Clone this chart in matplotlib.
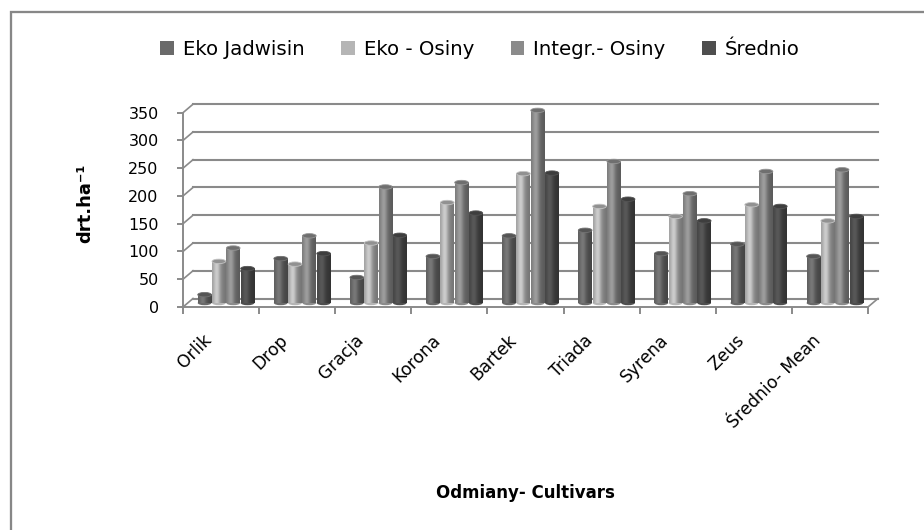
import numpy as np
import matplotlib
matplotlib.use('Agg')
import matplotlib.pyplot as plt
import matplotlib.transforms as mtransforms
from matplotlib.patches import Patch, Ellipse, Rectangle
from matplotlib.lines import Line2D

## data: dry matter yield per cultivar and site
cultivars    = ['Orlik', 'Drop', 'Gracja', 'Korona', 'Bartek', 'Triada', 'Syrena', 'Zeus', 'Średnio- Mean']
eko_jadwisin = [15, 80, 46, 84, 121, 131, 89, 106, 84]
eko_osiny    = [75, 70, 108, 181, 233, 174, 156, 177, 148]
integr_osiny = [99, 121, 209, 217, 347, 255, 197, 237, 240]
srednio      = [62, 89, 122, 162, 234, 187, 148, 174, 156]

series_names  = ['Eko Jadwisin', 'Eko - Osiny', 'Integr.- Osiny', 'Średnio']
series_colors = ['#6a6a6a', '#b5b5b5', '#8b8b8b', '#4e4e4e']
yticks        = [0, 50, 100, 150, 200, 250, 300, 350]

W, H = 924, 530
GRID = '#8a8a8a'

fig = plt.figure(figsize=(W/100, H/100), dpi=100)
ax = fig.add_axes([183/W, 1-307/H, 685/W, 194.3/H])
ncat = len(cultivars)

## back wall sits a bit up and right of the front axes (fake 3d)
wall = mtransforms.offset_copy(ax.transData, fig=fig, x=10, y=8.5, units='dots')
bar_tr = mtransforms.offset_copy(ax.transData, fig=fig, x=5, y=4, units='dots')

ax.set_xlim(0, ncat)
ax.set_ylim(0, 350)

for v in yticks:
    ax.plot([0, ncat], [v, v], color=GRID, lw=1.5, transform=wall, clip_on=False, zorder=1)

def shade(color, n=40):
    # cylinder-like horizontal brightness profile
    rgb = np.array(matplotlib.colors.to_rgb(color))
    t = np.linspace(0, 1, n)
    f = 0.85 + 0.35*np.exp(-((t-0.35)/0.25)**2) - 0.2*t
    return np.clip(rgb[None, :]*f[:, None], 0, 1)[None, :, :]

series = [eko_jadwisin, eko_osiny, integr_osiny, srednio]
bw, step = 0.18, 0.188
for j, (vals, col) in enumerate(zip(series, series_colors)):
    img = shade(col)
    cap = np.clip(np.array(matplotlib.colors.to_rgb(col))*0.8, 0, 1)
    for i, v in enumerate(vals):
        xc = i + 0.5 + (j-1.5)*step
        ax.imshow(img, extent=[xc-bw/2, xc+bw/2, 0, v], transform=bar_tr,
                  aspect='auto', interpolation='bilinear', zorder=3, clip_on=False)
        ax.add_patch(Ellipse((xc, 0), bw, 8, transform=bar_tr, facecolor=col,
                             edgecolor='none', zorder=2.9, clip_on=False))
        ax.add_patch(Ellipse((xc, v), bw, 8, transform=bar_tr, facecolor=cap,
                             edgecolor=np.clip(cap*1.35, 0, 1), lw=0.6, zorder=4, clip_on=False))

ax.set_xlim(0, ncat)
ax.set_ylim(0, 350)

## side wall / floor connectors, drawn in pixels
fig.canvas.draw()
def px(x, y):
    return ax.transData.transform((x, y))
for v in yticks:
    a = px(0, v)
    fig.add_artist(Line2D([a[0], a[0]+10], [a[1], a[1]+8.5], color=GRID, lw=1.2,
                          transform=mtransforms.IdentityTransform()))
a = px(ncat, 0)
fig.add_artist(Line2D([a[0], a[0]+10], [a[1], a[1]+8.5], color=GRID, lw=1.2,
                      transform=mtransforms.IdentityTransform()))

for s in ['top', 'right']:
    ax.spines[s].set_visible(False)
for s in ['left', 'bottom']:
    ax.spines[s].set_color(GRID)
    ax.spines[s].set_linewidth(1.4)
ax.patch.set_visible(False)

ax.set_yticks(yticks)
ax.tick_params(axis='y', length=4.5, width=1.4, color=GRID, pad=13, labelsize=11.5, labelcolor='black')
ax.set_xticks(np.arange(ncat+1))
ax.set_xticklabels([])
ax.tick_params(axis='x', which='major', length=5, width=1.4, color=GRID)
ax.set_xticks(np.arange(ncat)+0.5, minor=True)
ax.set_xticklabels(cultivars, minor=True, rotation=45, ha='right', va='center',
                   rotation_mode='anchor', fontsize=12.3)
ax.tick_params(axis='x', which='minor', length=0, pad=22)
shift = mtransforms.ScaledTranslation(-0.12, 0, fig.dpi_scale_trans)
for lbl in ax.get_xticklabels(minor=True):
    lbl.set_transform(lbl.get_transform() + shift)

handles = [Patch(facecolor=c, edgecolor='none') for c in series_colors]
fig.legend(handles, series_names, loc='center', bbox_to_anchor=(480/W, 1-49.5/H), ncol=4,
           frameon=False, fontsize=14.2, handlelength=0.7, handleheight=0.7,
           handletextpad=0.45, columnspacing=1.85)

fig.text(525/W, 1-493/H, 'Odmiany- Cultivars', ha='center', va='center',
         fontsize=12, fontweight='bold')
fig.text(85/W, 1-203/H, 'drt.ha⁻¹', ha='center', va='center', rotation=90,
         fontsize=13, fontweight='bold')

fig.add_artist(Rectangle((10.5/W, -0.1), 1.2, 1.1 - 11.7/H, transform=fig.transFigure,
                         fill=False, edgecolor='#878787', lw=1.65))

fig.savefig('out.png', dpi=100)
